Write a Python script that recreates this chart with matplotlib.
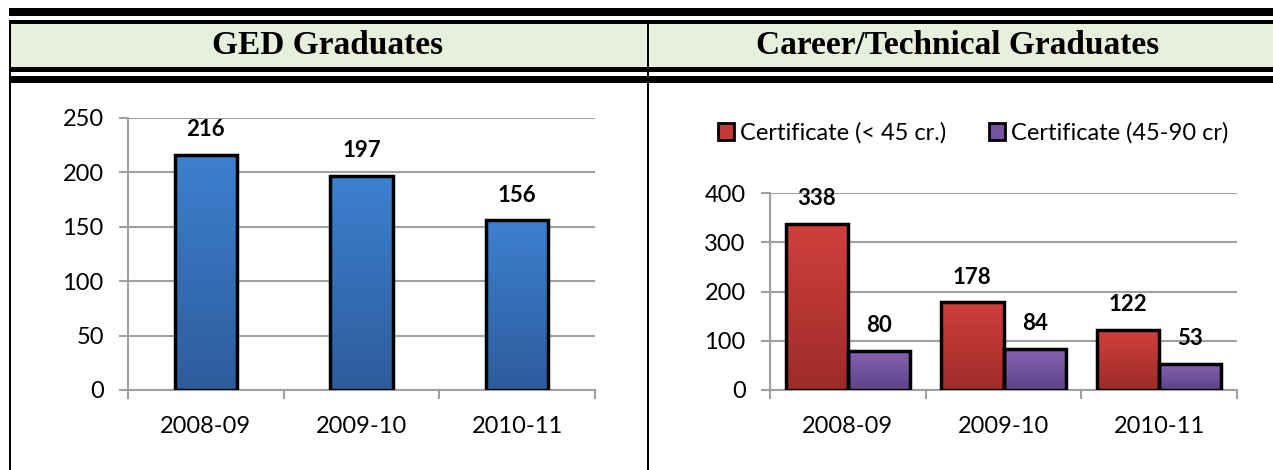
import numpy as np
import matplotlib
matplotlib.use("Agg")
from matplotlib import pyplot as plt
from matplotlib.patches import Rectangle, Patch
from matplotlib.colors import LinearSegmentedColormap

plt.rcParams['font.family'] = ['Lato', 'DejaVu Sans']

# Дані
years = ["2008-09", "2009-10", "2010-11"]
ged = [216, 197, 156]
cert_short = [338, 178, 122]
cert_long = [80, 84, 53]
series_names = ["Certificate (< 45 cr.)", "Certificate (45-90 cr)"]
titles = ["GED Graduates", "Career/Technical Graduates"]

W, H = 1273, 470
fig = plt.figure(figsize=(W / 100, H / 100), dpi=100)

# Рамка у вигляді таблиці (координати в пікселях)
frame = fig.add_axes([0, 0, 1, 1], zorder=0)
frame.set_xlim(0, W)
frame.set_ylim(H, 0)
frame.axis("off")
frame.add_patch(Rectangle((11, 24), W - 11, 43, color="#E8EFDC", lw=0))
for y0, y1 in [(8, 16), (20, 24), (67, 72), (76, 83)]:
    frame.add_patch(Rectangle((9, y0), W - 9, y1 - y0, color="black", lw=0))
frame.add_patch(Rectangle((9, 20), 2, H - 20, color="black", lw=0))
frame.add_patch(Rectangle((647, 20), 2, H - 20, color="black", lw=0))
frame.text(328, 45, titles[0], ha="center", va="center", fontsize=24,
           fontweight="bold", family="Liberation Serif")
frame.text(958, 45, titles[1], ha="center", va="center", fontsize=24,
           fontweight="bold", family="Liberation Serif")


def px_axes(x0, y0, x1, y1):
    return fig.add_axes([x0 / W, (H - y1) / H, (x1 - x0) / W, (y1 - y0) / H], zorder=1)


def style_axes(ax, ymax, step):
    ax.set_xlim(-0.5, 2.5)
    ax.set_ylim(0, ymax)
    ax.set_yticks(np.arange(0, ymax + 1, step))
    ax.set_xticks(range(len(years)))
    ax.set_xticklabels(years)
    ax.set_xticks([-0.5, 0.5, 1.5, 2.5], minor=True)
    ax.tick_params(axis="x", which="major", length=0, pad=19, labelsize=17)
    ax.tick_params(axis="x", which="minor", length=6.5, width=1.5, color="#A0A0A0")
    ax.tick_params(axis="y", length=6.5, width=1.5, color="#A0A0A0", labelsize=17, pad=11)
    ax.grid(axis="y", color="#A0A0A0", lw=1.5)
    ax.set_axisbelow(True)
    for s in ["top", "right"]:
        ax.spines[s].set_visible(False)
    for s in ["left", "bottom"]:
        ax.spines[s].set_color("#A0A0A0")
        ax.spines[s].set_linewidth(1.5)


def gradient_bars(ax, x, heights, width, top, bottom):
    cmap = LinearSegmentedColormap.from_list("g", [bottom, top])
    bars = ax.bar(x, heights, width, facecolor="none", edgecolor="black", lw=2.5, zorder=3)
    grad = np.linspace(0, 1, 100).reshape(-1, 1)
    for b in bars:
        im = ax.imshow(grad, cmap=cmap, origin="lower", aspect="auto", zorder=2,
                       extent=[b.get_x(), b.get_x() + b.get_width(), 0, b.get_height()])
        im.set_clip_path(b)
    ax.set_xlim(-0.5, 2.5)
    for b, v in zip(bars, heights):
        ax.annotate(str(v), (b.get_x() + b.get_width() / 2, v), xytext=(0, 18),
                    textcoords="offset points", ha="center", va="center",
                    fontsize=16, fontweight="bold", zorder=4)
    return bars


# Ліва діаграма
ax1 = px_axes(128, 118, 595, 390)
x = np.arange(len(years))
gradient_bars(ax1, x, ged, 0.4, "#3D80D0", "#2D5C9C")
style_axes(ax1, 250, 50)

# Права діаграма
ax2 = px_axes(770, 193, 1237, 390)
gradient_bars(ax2, x - 0.2, cert_short, 0.4, "#D0403D", "#9E2B29")
gradient_bars(ax2, x + 0.2, cert_long, 0.4, "#8662B3", "#5E4487")
style_axes(ax2, 400, 100)

handles = [Patch(facecolor="#C13836", edgecolor="black", lw=2),
           Patch(facecolor="#7454A0", edgecolor="black", lw=2)]
fig.legend(handles, series_names, loc="center", bbox_to_anchor=(973 / W, 1 - 133 / H),
           ncol=2, frameon=False, fontsize=17, handlelength=0.7, handleheight=0.7,
           handletextpad=0.25, columnspacing=1.8, borderpad=0)

fig.savefig("out.png", dpi=100)
